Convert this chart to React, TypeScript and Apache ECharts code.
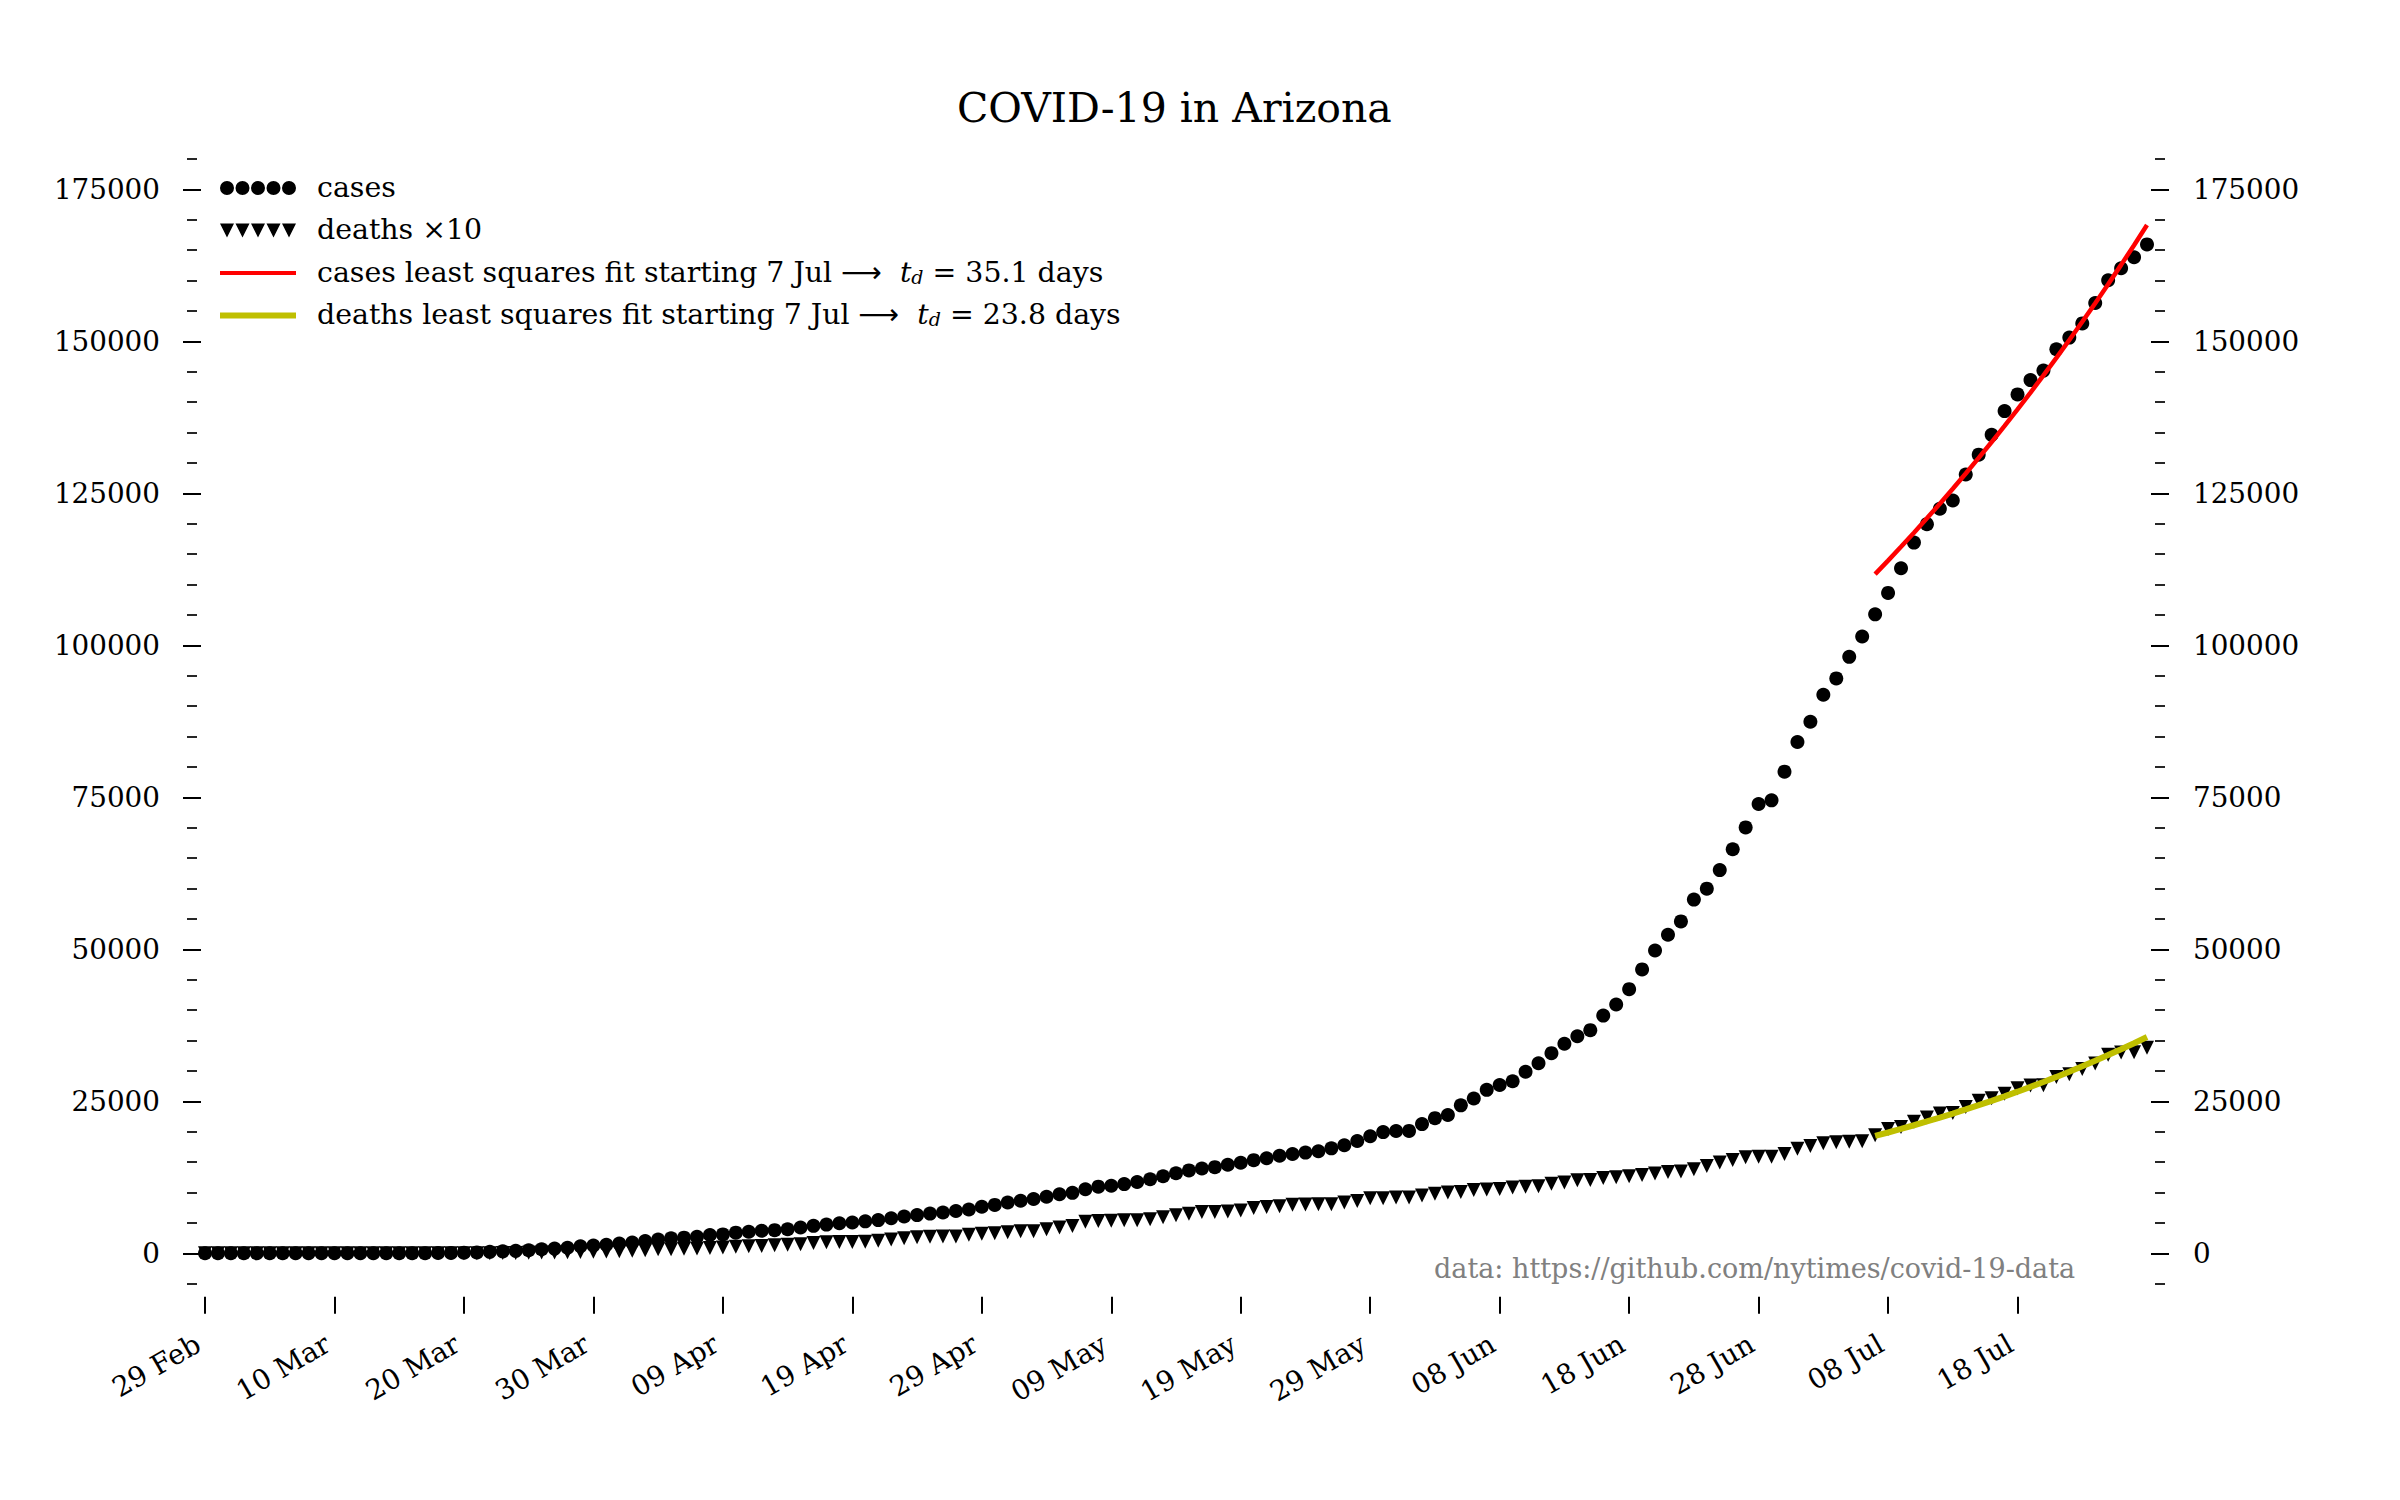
import { useEffect, useRef } from 'react';
import * as echarts from 'echarts';

// days counted from 29 Feb 2020, last point 28 Jul
const startDate = '29 Feb';
const dayTicks = [0, 10, 20, 30, 40, 50, 60, 70, 80, 90, 100, 110, 120, 130, 140];
const dayLabels = ['29 Feb', '10 Mar', '20 Mar', '30 Mar', '09 Apr', '19 Apr', '29 Apr', '09 May', '19 May', '29 May', '08 Jun', '18 Jun', '28 Jun', '08 Jul', '18 Jul'];

const yMajor = [0, 25000, 50000, 75000, 100000, 125000, 150000, 175000];
const yMinor = [
  -5000, 5000, 10000, 15000, 20000, 30000, 35000, 40000, 45000, 55000, 60000, 65000, 70000,
  80000, 85000, 90000, 95000, 105000, 110000, 115000, 120000, 130000, 135000, 140000, 145000,
  155000, 160000, 165000, 170000, 180000,
];

const cases = [
  1,
  // Mar
  1, 1, 1, 1, 1, 2, 3, 5, 6, 6, 9, 9, 12, 13, 18, 20, 27, 44, 65, 104, 152, 235, 326, 401, 508, 665, 773, 919, 1157, 1289, 1413,
  // Apr
  1598, 1769, 2019, 2269, 2456, 2575, 2726, 3018, 3112, 3393, 3539, 3702, 3806, 3964, 4237, 4511, 4724, 4933, 5068, 5251,
  5459, 5772, 6045, 6280, 6526, 6716, 6955, 7202, 7648, 7962,
  // May
  8364, 8640, 8924, 9305, 9707, 9945, 10526, 10960, 11119, 11383, 11736, 12176, 12674, 13169, 13631, 13937, 14170, 14566,
  14897, 15315, 15624, 16039, 16339, 16561, 16783, 17262, 17763, 18465, 19255, 19936, 20123,
  // Jun
  20129, 21250, 22223, 22753, 24332, 25451, 26889, 27678, 28296, 29852, 31264, 32918, 34458, 35691, 36705, 39097, 40924,
  43443, 46689, 49798, 52390, 54586, 58179, 59974, 63030, 66458, 70051, 73908, 74500, 79215,
  // Jul
  84092, 87425, 91858, 94553, 98103, 101441, 105094, 108614, 112671, 116892, 119930, 122467, 123824, 128097, 131354,
  134613, 138523, 141265, 143624, 145183, 148683, 150609, 152944, 156301, 160041, 162014, 163827, 165934,
];

const deaths = [
  0,
  // Mar
  0, 0, 0, 0, 0, 0, 0, 0, 0, 0, 0, 0, 0, 0, 0, 0, 0, 0, 0, 1, 2, 2, 5, 6, 8, 13, 15, 17, 20, 24, 29,
  // Apr
  32, 41, 52, 65, 65, 73, 80, 89, 97, 108, 115, 122, 131, 142, 150, 169, 180, 184, 187, 191, 208, 229, 249, 266, 273, 275,
  275, 304, 320, 330,
  // May
  348, 362, 362, 395, 426, 450, 517, 532, 536, 542, 544, 562, 594, 624, 651, 679, 680, 686, 704, 747, 763, 775, 800, 801,
  807, 808, 834, 861, 906, 907, 917,
  // Jun
  917, 950, 979, 999, 1010, 1040, 1049, 1056, 1081, 1096, 1103, 1144, 1166, 1200, 1204, 1240, 1252, 1269, 1288, 1314,
  1337, 1345, 1384, 1434, 1492, 1535, 1579, 1588, 1590, 1632,
  // Jul
  1720, 1765, 1809, 1828, 1834, 1841, 1943, 2043, 2079, 2164, 2232, 2301, 2306, 2406, 2507, 2551, 2624, 2713, 2761, 2765,
  2898, 2943, 3033, 3123, 3264, 3301, 3305, 3381,
];
const DEATH_SCALE = 10;

// least squares fits from 7 Jul (day 129) to 28 Jul
const FIT_START = 129;
const casesFit = [
  111700, 113930, 116200, 118520, 120880, 123290, 125750, 128260, 130820, 133430, 136090, 138800, 141570, 144390, 147270,
  150210, 153210, 156270, 159390, 162570, 165810, 169120,
];
const deathsFit = [
  19300, 19870, 20460, 21060, 21680, 22320, 22980, 23660, 24360, 25080, 25820, 26580, 27370, 28180, 29010, 29870, 30750,
  31660, 32600, 33560, 34550, 35570,
];

const SERIF = 'DejaVu Serif';

const legendText: Record<string, string> = {
  cases: '{n|cases}',
  'deaths ×10': '{n|deaths ×10}',
  'cases fit': '{n|cases least squares fit starting 7 Jul }{a|⟶}{n|  }{i|t}{s|d}{n| = 35.1 days}',
  'deaths fit': '{n|deaths least squares fit starting 7 Jul }{a|⟶}{n|  }{i|t}{s|d}{n| = 23.8 days}',
};

const iconSlots = [0, 15.5, 31, 46.5, 62];
const circlesIcon = 'path://' + iconSlots.map((x) => `M${x} 7a7 7 0 1 0 14 0a7 7 0 1 0 -14 0z`).join(' ');
const trianglesIcon = 'path://' + iconSlots.map((x) => `M${x} 0h14l-7 14z`).join(' ');

export default function App() {
  const chartRef = useRef<HTMLDivElement>(null);

  useEffect(() => {
    if (!chartRef.current) return;
    document.body.style.margin = '0';

    const chart = echarts.init(chartRef.current, undefined, { renderer: 'svg' });

    const tickStyle = { color: '#000', width: 2 };
    const labelStyle = { fontFamily: SERIF, fontSize: 27.8, color: '#000' };

    const yAxisBase = {
      type: 'value',
      min: -5000,
      max: 180000,
      splitLine: { show: false },
      axisLine: { show: false, onZero: false },
    };

    const option = {
      animation: false,
      backgroundColor: '#ffffff',
      title: {
        text: 'COVID-19 in Arizona',
        left: 957,
        top: 87,
        padding: 0,
        textStyle: { fontFamily: SERIF, fontSize: 41, fontWeight: 'normal', color: '#000' },
      },
      legend: {
        orient: 'vertical',
        left: 220,
        top: 173,
        padding: 0,
        itemGap: 14.5,
        itemWidth: 76,
        itemHeight: 14,
        symbolKeepAspect: true,
        selectedMode: false,
        data: [
          { name: 'cases', icon: circlesIcon },
          { name: 'deaths ×10', icon: trianglesIcon },
          { name: 'cases fit', icon: 'path://M0 0h76v4h-76z' },
          { name: 'deaths fit', icon: 'path://M0 0h76v6h-76z' },
        ],
        formatter: (name: string) => legendText[name],
        textStyle: {
          fontFamily: SERIF,
          fontSize: 28.4,
          color: '#000',
          height: 30,
          padding: [0, 0, 0, 16],
          rich: {
            n: { fontFamily: SERIF, fontSize: 28.4, color: '#000' },
            a: { fontFamily: 'DejaVu Sans', fontSize: 28.4, color: '#000' },
            i: { fontFamily: SERIF, fontSize: 28.4, fontStyle: 'italic', color: '#000' },
            s: { fontFamily: SERIF, fontSize: 19, lineHeight: 20, fontStyle: 'italic', verticalAlign: 'bottom', color: '#000' },
          },
        },
      },
      grid: { left: 205, top: 158.9, width: 1942, height: 1124.8, outerBoundsMode: 'none' },
      xAxis: {
        type: 'value',
        min: 0,
        max: 150,
        position: 'bottom',
        offset: 13,
        splitLine: { show: false },
        axisLine: { show: false, onZero: false },
        axisTick: { show: true, length: 17, customValues: dayTicks, lineStyle: tickStyle },
        axisLabel: {
          ...labelStyle,
          customValues: dayTicks,
          formatter: (v: number) => dayLabels[dayTicks.indexOf(v)] ?? startDate,
          rotate: 30,
          margin: 41,
          padding: [0, 8, 0, 0],
        },
      },
      yAxis: [
        {
          ...yAxisBase,
          position: 'left',
          offset: 4,
          axisTick: { show: true, length: 18, customValues: yMajor, lineStyle: tickStyle },
          axisLabel: { ...labelStyle, customValues: yMajor, margin: 41, formatter: (v: number) => String(v) },
        },
        {
          ...yAxisBase,
          position: 'left',
          offset: 8,
          axisTick: { show: true, length: 10, customValues: yMinor, lineStyle: { color: '#000', width: 1.7 } },
          axisLabel: { show: false },
        },
        {
          ...yAxisBase,
          position: 'right',
          offset: 4,
          axisTick: { show: true, length: 18, customValues: yMajor, lineStyle: tickStyle },
          axisLabel: { ...labelStyle, customValues: yMajor, margin: 42, formatter: (v: number) => String(v) },
        },
        {
          ...yAxisBase,
          position: 'right',
          offset: 8,
          axisTick: { show: true, length: 10, customValues: yMinor, lineStyle: { color: '#000', width: 1.7 } },
          axisLabel: { show: false },
        },
      ],
      graphic: [
        {
          type: 'text',
          x: 1434,
          y: 1268,
          style: {
            text: 'data: https://github.com/nytimes/covid-19-data',
            fill: '#808080',
            fontFamily: SERIF,
            fontSize: 27,
            verticalAlign: 'middle',
          },
        },
      ],
      series: [
        {
          type: 'scatter',
          name: 'cases',
          data: cases.map((v, i) => [i, v]),
          symbol: 'circle',
          symbolSize: 14,
          itemStyle: { color: '#000', opacity: 1 },
        },
        {
          type: 'scatter',
          name: 'deaths ×10',
          data: deaths.map((v, i) => [i, v * DEATH_SCALE]),
          symbol: 'triangle',
          symbolRotate: 180,
          symbolSize: 14,
          itemStyle: { color: '#000', opacity: 1 },
        },
        {
          type: 'line',
          name: 'cases fit',
          data: casesFit.map((v, i) => [FIT_START + i, v]),
          symbol: 'none',
          showSymbol: false,
          z: 3,
          itemStyle: { color: '#ff0000' },
          lineStyle: { color: '#ff0000', width: 4.5 },
        },
        {
          type: 'line',
          name: 'deaths fit',
          data: deathsFit.map((v, i) => [FIT_START + i, v]),
          symbol: 'none',
          showSymbol: false,
          z: 3,
          itemStyle: { color: '#bfbf00' },
          lineStyle: { color: '#bfbf00', width: 6 },
        },
      ],
    };

    chart.setOption(option as any);

    return () => {
      chart.dispose();
    };
  }, []);

  return <div ref={chartRef} style={{ position: 'absolute', left: 0, top: 0, width: 2400, height: 1500 }} />;
}
